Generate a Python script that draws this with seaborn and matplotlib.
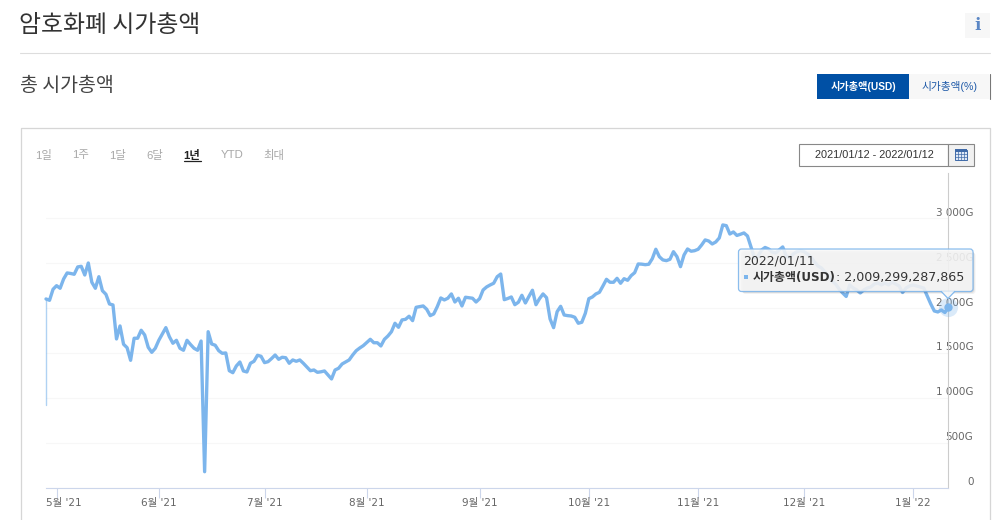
import matplotlib
matplotlib.use("Agg")
import matplotlib.pyplot as plt
from matplotlib.patches import Rectangle, FancyBboxPatch, Polygon
from matplotlib.transforms import ScaledTranslation
import pandas as pd
import seaborn as sns

# Market cap in billions of USD ("G"), one reading per data point
start_value = 920
market_cap = [
    2102, 2087, 2210, 2250, 2221, 2325, 2392, 2386, 2377, 2459, 2466, 2369, 2503, 2288, 2221, 2350,
    2194, 2154, 2046, 2035, 1656, 1801, 1597, 1559, 1418, 1664, 1664, 1753, 1700, 1563, 1507, 1552,
    1641, 1712, 1782, 1681, 1608, 1641, 1552, 1530, 1641, 1594, 1552, 1530, 1633, 176, 1737, 1600,
    1586, 1525, 1496, 1500, 1302, 1280, 1355, 1399, 1299, 1288, 1385, 1407, 1474, 1463, 1392, 1403,
    1438, 1477, 1429, 1452, 1447, 1385, 1422, 1407, 1422, 1385, 1344, 1302, 1310, 1284, 1290, 1299,
    1254, 1210, 1310, 1329, 1377, 1399, 1422, 1477, 1525, 1555, 1581, 1617, 1652, 1614, 1614, 1578,
    1652, 1689, 1737, 1831, 1786, 1868, 1875, 1909, 1860, 2009, 2016, 2024, 1987, 1916, 1935, 2016,
    2113, 2091, 2110, 2158, 2068, 2110, 2024, 2121, 2115, 2110, 2068, 2105, 2202, 2236, 2258, 2277,
    2350, 2380, 2094, 2107, 2124, 2038, 2065, 2143, 2057, 2130, 2199, 2038, 2105, 2158, 2116, 1879,
    1782, 1960, 2020, 1923, 1916, 1912, 1898, 1831, 1842, 1942, 2105, 2124, 2158, 2176, 2247, 2321,
    2288, 2288, 2332, 2277, 2328, 2310, 2362, 2395, 2492, 2490, 2484, 2489, 2551, 2656, 2573, 2537,
    2529, 2544, 2629, 2573, 2462, 2592, 2659, 2634, 2640, 2656, 2704, 2760, 2748, 2715, 2737, 2782,
    2927, 2919, 2826, 2849, 2810, 2823, 2838, 2804, 2682, 2559, 2581, 2648, 2676, 2659, 2626, 2615,
    2648, 2682, 2581, 2559, 2604, 2629, 2640, 2631, 2604, 2570, 2514, 2470, 2447, 2403, 2358, 2302,
    2269, 2213, 2169, 2130, 2258, 2224, 2202, 2169, 2202, 2224, 2236, 2269, 2280, 2258, 2280, 2258,
    2291, 2269, 2247, 2174, 2224, 2247, 2258, 2247, 2236, 2224, 2135, 2046, 1968, 1957, 1979, 1951,
    2009,
]
month_positions = [3, 32, 62, 91, 123, 154, 185, 215, 246]
month_labels = ["5월 '21", "6월 '21", "7월 '21", "8월 '21", "9월 '21", "10월 '21", "11월 '21", "12월 '21", "1월 '22"]
y_ticks = [0, 500, 1000, 1500, 2000, 2500, 3000]
y_labels = ["0", "500G", "1 000G", "1 500G", "2 000G", "2 500G", "3 000G"]
range_buttons = [("1일", 44), ("1주", 81), ("1달", 118), ("6달", 155), ("1년", 192), ("YTD", 232), ("최대", 274)]

sns.set_theme(style="white")
KR = ["Noto Sans CJK KR", "DejaVu Sans"]
DV = ["DejaVu Sans", "Noto Sans CJK KR"]
LB = ["Liberation Sans", "Noto Sans CJK KR"]
plt.rcParams["font.family"] = DV

W, H = 1001, 520
fig = plt.figure(figsize=(W / 100, H / 100), dpi=100, facecolor="white")


def pixel_axes(z):
    a = fig.add_axes([0, 0, 1, 1], zorder=z)
    a.set_xlim(0, W)
    a.set_ylim(H, 0)
    a.axis("off")
    a.patch.set_alpha(0)
    return a


# page furniture
ui = pixel_axes(0)
ui.text(19, 26, "암호화폐 시가총액", family=KR, fontsize=17.2, color="#333333", va="center")
ui.plot([20, 990], [53, 53], color="#dddddd", lw=0.8)
ui.text(20, 85.5, "총 시가총액", family=KR, fontsize=14, color="#444444", va="center")
ui.add_patch(Rectangle((965, 13), 25, 25, fc="#f7f7f7", ec="none"))
ui.text(977.5, 26, "i", family="DejaVu Serif", fontweight="bold", fontsize=12, color="#5b87c5", ha="center", va="center")
ui.add_patch(Rectangle((817, 74), 92, 25, fc="#0050a5", ec="none"))
ui.add_patch(Rectangle((909, 74), 80, 25, fc="#f7f7f7", ec="none"))
ui.plot([989.5, 989.5], [74, 99], color="#777777", lw=0.8)
ui.text(863, 86.5, "시가총액(USD)", family=LB, fontsize=7.3, fontweight="bold", color="white", ha="center", va="center")
ui.text(949, 86.5, "시가총액(%)", family=LB, fontsize=7.7, color="#1f5aa8", ha="center", va="center")
ui.plot([20.5, 20.5, 989.5, 989.5], [520, 127.5, 127.5, 520], color="#d6d6d6", lw=0.9)
for name, cx in range_buttons:
    active = name == "1년"
    ui.text(cx, 155, name, family=LB, fontsize=8.2, color="#222222" if active else "#a8a8a8",
            fontweight="bold" if active else "normal", ha="center", va="center")
ui.plot([184, 201], [161, 161], color="#222222", lw=0.9)
ui.add_patch(Rectangle((798.5, 143.5), 149, 22, fc="white", ec="#888888", lw=0.8))
ui.add_patch(Rectangle((947.5, 143.5), 26, 22, fc="#f1f1f1", ec="#888888", lw=0.8))
ui.text(874, 155, "2021/01/12 - 2022/01/12", family=LB, fontsize=7.9, color="#333333", ha="center", va="center")
ui.add_patch(Rectangle((954.5, 150), 12, 10, fc="#dfe8f5", ec="#3f6aa8", lw=0.7))
ui.add_patch(Rectangle((954.5, 149), 12, 2.5, fc="#3f6aa8", ec="none"))
for gx in (957.5, 960.5, 963.5):
    ui.plot([gx, gx], [151, 160], color="#3f6aa8", lw=0.5)
for gy in (153.5, 156.5):
    ui.plot([954.5, 966.5], [gy, gy], color="#3f6aa8", lw=0.5)

# chart
LEFT, RIGHT, TOP, BOTTOM = 46, 948.4, 173, 487.5
ax = fig.add_axes([LEFT / W, (H - BOTTOM) / H, (RIGHT - LEFT) / W, (BOTTOM - TOP) / H], zorder=1)
ax.patch.set_alpha(0)
df = pd.DataFrame({"idx": range(len(market_cap)), "cap": market_cap})
LINE = "#7cb5ec"
sns.lineplot(data=df, x="idx", y="cap", ax=ax, color=LINE, lw=2.4, estimator=None, errorbar=None,
             solid_joinstyle="round", solid_capstyle="round", clip_on=False)
first = pd.DataFrame({"idx": [0, 0], "cap": [start_value, market_cap[0]]})
sns.lineplot(data=first, x="idx", y="cap", ax=ax, color=LINE, lw=1.0, alpha=0.6, estimator=None,
             errorbar=None, sort=False, clip_on=False)
last = df.iloc[[-1]]
sns.scatterplot(data=last, x="idx", y="cap", ax=ax, color=LINE, s=190, alpha=0.28, linewidth=0, clip_on=False, zorder=4)
sns.scatterplot(data=last, x="idx", y="cap", ax=ax, color=LINE, s=36, linewidth=0, clip_on=False, zorder=5)

ax.set_xlim(0, len(market_cap) - 1)
ax.set_ylim(0, (BOTTOM - TOP) * 500 / 44.85)
ax.set_xlabel("")
ax.set_ylabel("")
ax.set_xticks(month_positions)
ax.set_xticklabels(month_labels)
ax.set_yticks(y_ticks)
ax.set_yticklabels(y_labels)
ax.yaxis.tick_right()
ax.grid(axis="y", color="#f7f7f7", lw=0.8)
ax.set_axisbelow(True)
for side in ("top", "left"):
    ax.spines[side].set_visible(False)
ax.spines["bottom"].set_color("#ccd6eb")
ax.spines["bottom"].set_linewidth(0.8)
ax.spines["right"].set_color("#cccccc")
ax.spines["right"].set_linewidth(0.8)
ax.tick_params(axis="x", length=7.2, width=0.8, color="#ccd6eb", labelsize=7.5, labelcolor="#666666", pad=0.2, bottom=True)
ax.tick_params(axis="y", length=0, labelsize=7.5, labelcolor="#666666", pad=0)
ylab_shift = ScaledTranslation(25 / 100, 5.5 / 100, fig.dpi_scale_trans)
for lab in ax.get_yticklabels():
    lab.set_ha("right")
    lab.set_va("center")
    lab.set_transform(lab.get_transform() + ylab_shift)
xlabs = ax.get_xticklabels()
xlabs[0].set_transform(xlabs[0].get_transform() + ScaledTranslation(7.3 / 100, 0, fig.dpi_scale_trans))

# hover tooltip
tip = pixel_axes(2)
for off, al in ((2.5, 0.05), (1.5, 0.07), (0.7, 0.09)):
    tip.add_patch(FancyBboxPatch((740 + off, 250 + off), 233, 41.5, boxstyle="round,pad=0,rounding_size=3",
                                 fc="black", ec="none", alpha=al))
tip.add_patch(FancyBboxPatch((738.5, 249), 234.5, 42.5, boxstyle="round,pad=0,rounding_size=3",
                             fc="#f8f8f8", ec=LINE, lw=0.9, alpha=0.88))
tip.add_patch(Polygon([(941, 291.2), (948, 298.5), (955, 291.2)], closed=False, fc="#f8f8f8", ec=LINE, lw=0.9, alpha=0.95))
tip.text(743, 261, "2022/01/11", family=DV, fontsize=9, color="#333333", va="center")
tip.add_patch(Rectangle((744, 275), 4, 4, fc=LINE, ec="none"))
tip.text(753, 277, "시가총액(USD)", family=DV, fontsize=8.6, fontweight="bold", color="#333333", va="center")
tip.text(836, 277, ": 2,009,299,287,865", family=DV, fontsize=9.1, color="#333333", va="center")

fig.savefig("out.png", dpi=100)
